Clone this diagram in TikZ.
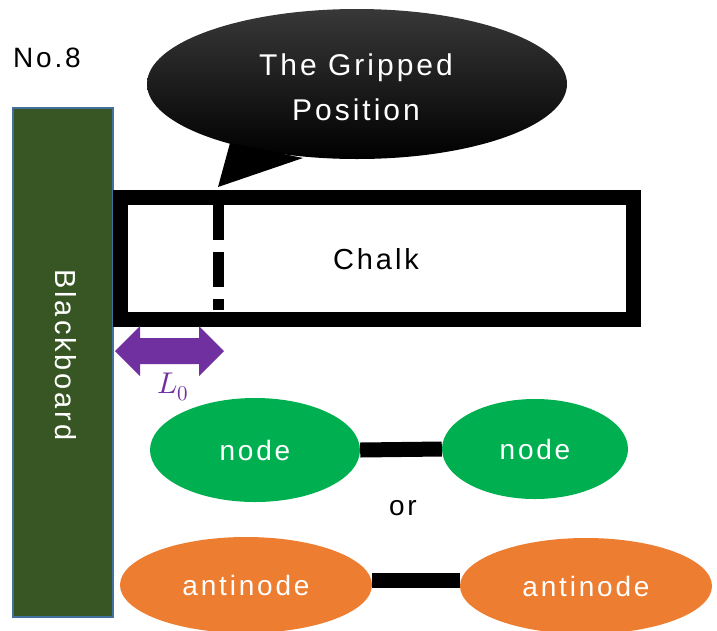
\documentclass[tikz,border=0pt]{standalone}
\usepackage{fontspec}
\usepackage{unicode-math}
\setmainfont{Liberation Sans}[LetterSpace=10]
\setmathfont{Latin Modern Math}
\usetikzlibrary{shapes.geometric}
\definecolor{boardgreen}{HTML}{375623}
\definecolor{boardedge}{HTML}{41719C}
\definecolor{nodegreen}{HTML}{00B050}
\definecolor{antiorange}{HTML}{ED7D31}
\definecolor{arrowpurple}{HTML}{7030A0}
\newcommand{\txt}[1]{\fontsize{#1}{#1}\selectfont}
\tikzset{
  lbl/.style={inner sep=0, anchor=base, font=\txt{28}},
  blob/.style={ellipse, inner sep=0, text=white, font=\txt{28}},
  bar/.style={line width=15pt},
}
\begin{document}
\begin{tikzpicture}[x=1pt, y=-1pt]
\useasboundingbox (0,0) rectangle (717,630);

% title
\node[lbl, anchor=base west] (title) at (13,67) {No.8};

% blackboard
\node[draw=boardedge, line width=2pt, fill=boardgreen, inner sep=0,
      minimum width=100pt, minimum height=509pt] (board) at (62.5,362) {};
\node[inner sep=0, rotate=-90, text=white, font=\txt{29}] (boardtxt) at (66,355) {Blackboard};

% chalk
\node[draw, line width=15pt, inner sep=0, minimum width=513pt, minimum height=122pt]
      (chalk) at (377,258.5) {};
\node[lbl, font=\txt{29}] (chalktxt) at (376,269) {Chalk};

% gripped position mark
\coordinate (gripT) at (218.5,205);
\coordinate (gripB) at (218.5,310);
\draw[line width=11.6pt, dash pattern=on 35pt off 12pt] (gripT) -- (gripB);

% speech bubble
\node[ellipse, inner sep=0, minimum width=420pt, minimum height=150pt,
      top color=black!78, middle color=black, bottom color=black] (bubble) at (357,84) {};
\coordinate (tailA) at (230,143);
\coordinate (tailTip) at (218,187);
\coordinate (tailB) at (303,158);
\fill (tailA) -- (tailTip) -- (tailB) -- cycle;
\node[lbl, text=white, font=\txt{30}] (bubble1) at (356,75) {The Gripped};
\node[lbl, text=white, font=\txt{30}] (bubble2) at (356,120) {Position};

% distance L0
\fill[arrowpurple] (115,351) -- (140,326) -- (140,338) -- (199,338) -- (199,326)
  -- (224,351) -- (199,376) -- (199,364) -- (140,364) -- (140,376) -- cycle;
\node[text=arrowpurple, inner sep=0, anchor=base, font=\txt{30}] (L0) at (173,393) {$L_0$};

% nodes
\node[blob, fill=nodegreen, minimum width=210pt, minimum height=104pt] (n1) at (255,450) {node};
\node[blob, fill=nodegreen, minimum width=186pt, minimum height=100pt] (n2) at (535,449) {node};
\draw[bar] (n1.east) -- (n2.west);

\node[lbl] (or) at (403,515) {or};

% antinodes
\node[blob, fill=antiorange, minimum width=252pt, minimum height=96pt] (a1) at (246,585) {antinode};
\node[blob, fill=antiorange, minimum width=252pt, minimum height=96pt] (a2) at (586,586) {antinode};
\draw[bar] ([yshift=5pt]a1.east) -- ([yshift=6pt]a2.west);
\end{tikzpicture}
\end{document}
